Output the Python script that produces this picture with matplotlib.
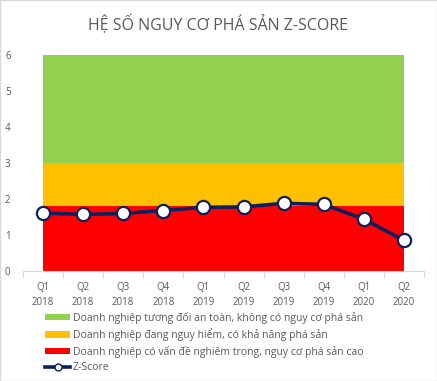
import matplotlib
matplotlib.use("Agg")
import matplotlib.pyplot as plt
from matplotlib.patches import Patch
from matplotlib.lines import Line2D
import numpy as np

plt.rcParams['font.family'] = ['Open Sans', 'DejaVu Sans']

quarters = ["Q1\n2018", "Q2\n2018", "Q3\n2018", "Q4\n2018", "Q1\n2019",
            "Q2\n2019", "Q3\n2019", "Q4\n2019", "Q1\n2020", "Q2\n2020"]
zone_red = [1.8] * 10      # 0 - 1.8
zone_yellow = [1.2] * 10   # 1.8 - 3.0
zone_green = [3.0] * 10    # 3.0 - 6.0
z_score = [1.61, 1.57, 1.60, 1.68, 1.77, 1.78, 1.88, 1.85, 1.44, 0.85]

labels = ["Doanh nghiệp tương đối an toàn, không có nguy cơ phá sản",
          "Doanh nghiệp đang nguy hiểm, có khả năng phá sản",
          "Doanh nghiệp có vấn đề nghiêm trọng, nguy cơ phá sản cao",
          "Z-Score"]

c_green, c_yellow, c_red, c_line = "#92D050", "#FFC000", "#FF0000", "#0D1F5C"
txt = "#595959"

fig = plt.figure(figsize=(4.37, 3.81), dpi=100)
fig.patches.append(plt.Rectangle((0, 0), 1, 1, transform=fig.transFigure,
                                 fill=False, edgecolor="#D9D9D9", linewidth=1))
ax = fig.add_axes([23/437, 1 - 271/381, 401/437, 216/381])
x = np.arange(len(quarters))
ax.stackplot(x, zone_red, zone_yellow, zone_green,
             colors=[c_red, c_yellow, c_green], linewidth=0)
ax.plot(x, z_score, color=c_line, linewidth=2.6, marker='o', markersize=9.5,
        markerfacecolor='white', markeredgecolor=c_line, markeredgewidth=1.6,
        zorder=5, clip_on=False)

ax.set_xlim(-0.5, len(quarters) - 0.5)
ax.set_ylim(0, 6)
ax.set_yticks(range(0, 7))
ax.set_xticks(x)
ax.set_xticklabels(quarters, fontsize=7, color=txt, linespacing=1.45)
ax.tick_params(axis='y', length=0, labelsize=7, labelcolor=txt, pad=9)
ax.tick_params(axis='x', length=0, pad=8)
ax.set_xticks(np.arange(-0.5, len(quarters)), minor=True)
ax.tick_params(axis='x', which='minor', length=5, color="#D9D9D9", width=0.8)
for s in ['top', 'right', 'left']:
    ax.spines[s].set_visible(False)
ax.spines['bottom'].set_color("#D9D9D9")
ax.spines['bottom'].set_linewidth(0.8)

fig.text(218/437, 1 - 24/381, "HỆ SỐ NGUY CƠ PHÁ SẢN Z-SCORE", ha='center',
         va='center', fontsize=11.5, color=txt)

handles = [Patch(facecolor=c_green, edgecolor='none'),
           Patch(facecolor=c_yellow, edgecolor='none'),
           Patch(facecolor=c_red, edgecolor='none'),
           Line2D([], [], color=c_line, linewidth=2.6, marker='o', markersize=5,
                  markerfacecolor='white', markeredgecolor=c_line)]
leg = fig.legend(handles, labels, loc='upper left',
                 bbox_to_anchor=(45/437, 1 - 312/381), frameon=False,
                 fontsize=7.5, labelcolor=txt, handlelength=2.4, handleheight=0.55,
                 handletextpad=0.25, labelspacing=0.42, borderaxespad=0,
                 borderpad=0)

fig.savefig("out.png", dpi=100)
